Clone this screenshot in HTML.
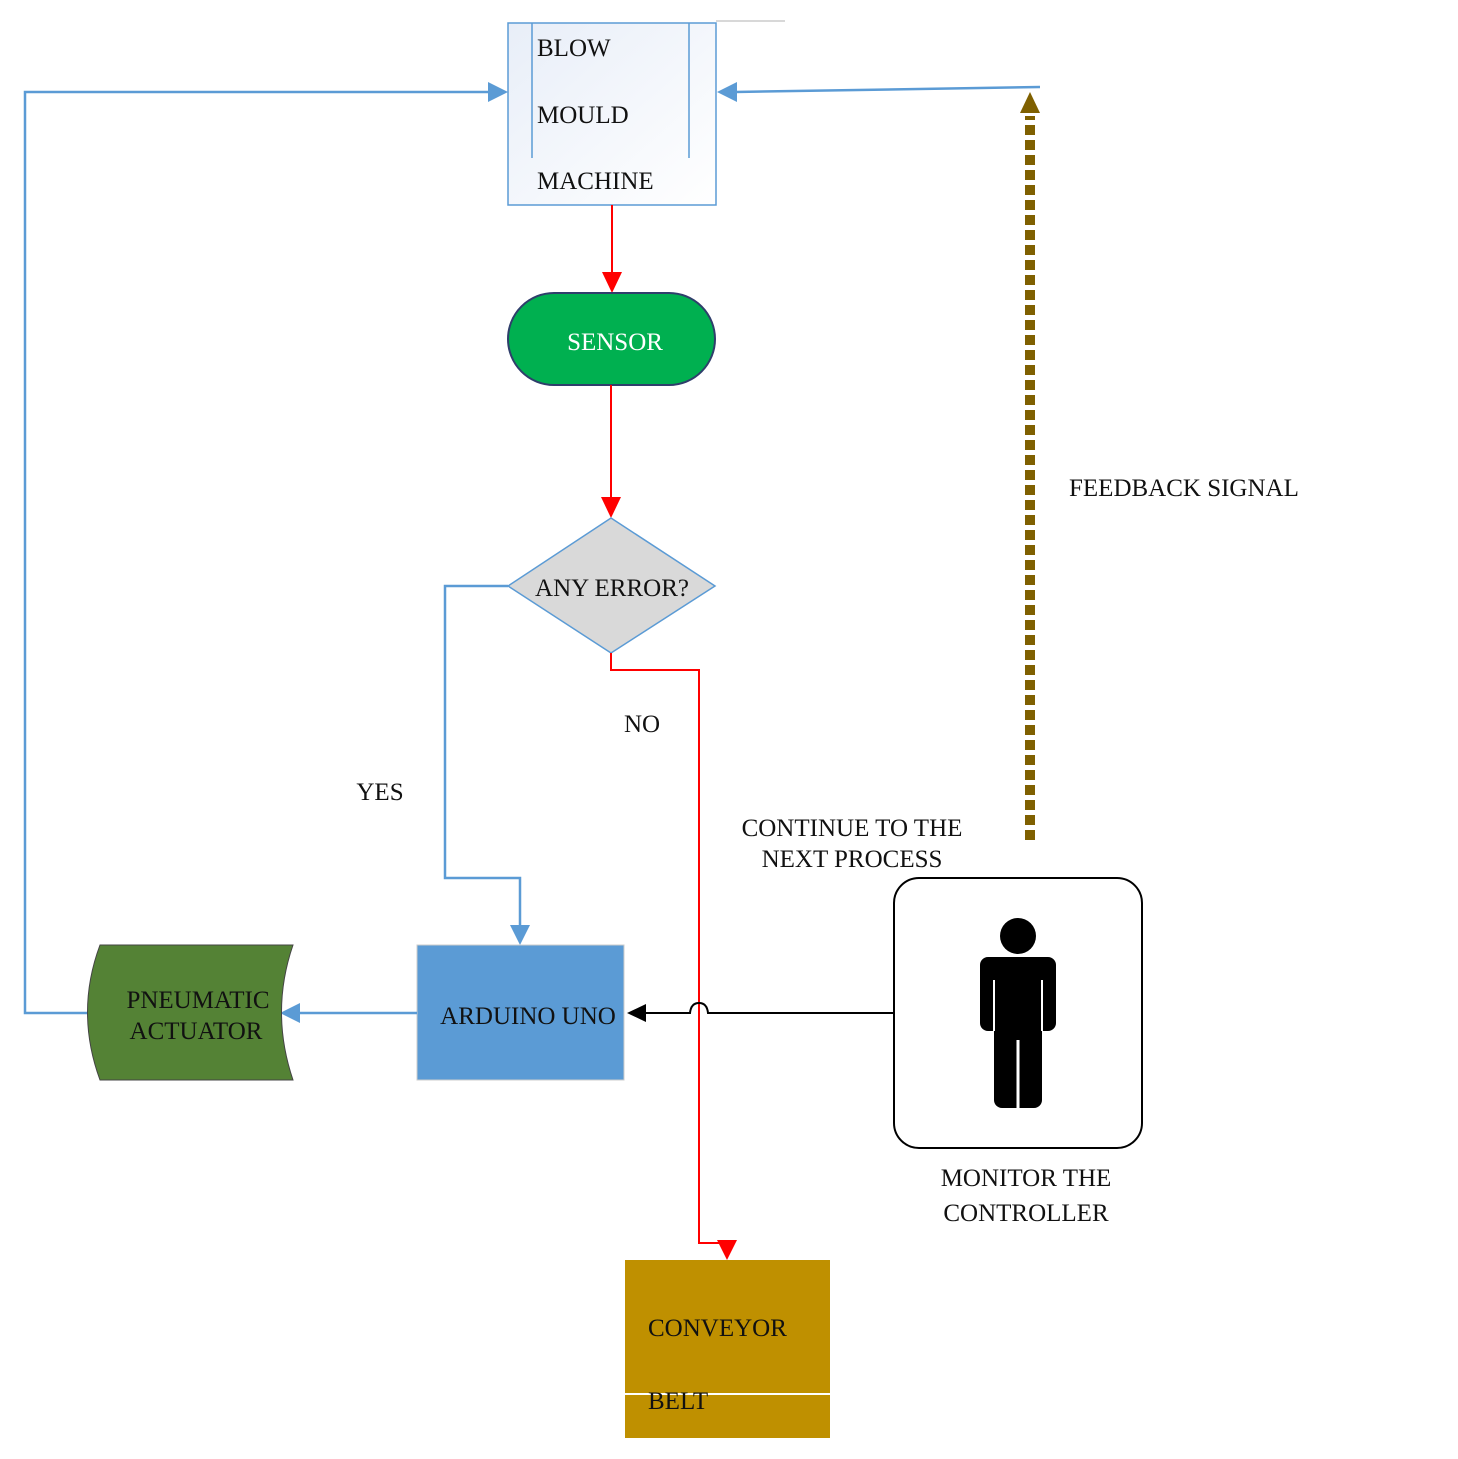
<!DOCTYPE html>
<html><head><meta charset="utf-8"><style>
html,body{margin:0;padding:0;background:#fff;}
svg{display:block;}
text{font-family:"Liberation Serif",serif;font-size:25px;fill:#111;}
</style></head><body>
<svg width="1458" height="1459" viewBox="0 0 1458 1459" xmlns="http://www.w3.org/2000/svg">
<defs>
<linearGradient id="g1" x1="0" y1="0" x2="1" y2="1"><stop offset="0" stop-color="#e8eef8"/><stop offset="1" stop-color="#ffffff"/></linearGradient>
</defs>
<!-- blow mould -->
<line x1="716" y1="21" x2="785" y2="21" stroke="#ccc" stroke-width="1.5"/>
<rect x="508" y="23" width="208" height="182" fill="url(#g1)" stroke="#5b9bd5" stroke-width="1.5"/>
<line x1="532" y1="23" x2="532" y2="158" stroke="#5b9bd5" stroke-width="1.5"/>
<line x1="689" y1="23" x2="689" y2="158" stroke="#5b9bd5" stroke-width="1.5"/>
<text x="537" y="56">BLOW</text>
<text x="537" y="123">MOULD</text>
<text x="537" y="189">MACHINE</text>
<!-- left loop -->
<polyline points="88,1013 25,1013 25,92 490,92" fill="none" stroke="#5b9bd5" stroke-width="2.5"/>
<polygon points="508,92 488,82 488,102" fill="#5b9bd5"/>
<!-- right arrow -->
<line x1="1040" y1="87" x2="735" y2="92" stroke="#5b9bd5" stroke-width="2.5"/>
<polygon points="717,92 737,82 737,102" fill="#5b9bd5"/>
<!-- red to sensor -->
<line x1="612" y1="205" x2="612" y2="275" stroke="#f00" stroke-width="2"/>
<polygon points="612,293 602,272 622,272" fill="#f00"/>
<!-- sensor -->
<rect x="508" y="293" width="207" height="92" rx="46" fill="#00b050" stroke="#2f3e6b" stroke-width="2"/>
<text x="615" y="350" text-anchor="middle" fill="#fff" style="fill:#fff">SENSOR</text>
<line x1="611" y1="385" x2="611" y2="500" stroke="#f00" stroke-width="2"/>
<polygon points="611,518 601,497 621,497" fill="#f00"/>
<!-- diamond -->
<polygon points="611,518 715,586 611,653 508,586" fill="#d9d9d9" stroke="#5b9bd5" stroke-width="1.5"/>
<text x="612" y="596" text-anchor="middle">ANY ERROR?</text>
<!-- yes path -->
<polyline points="508,586 445,586 445,878 520,878 520,928" fill="none" stroke="#5b9bd5" stroke-width="2.5"/>
<polygon points="520,945 510,925 530,925" fill="#5b9bd5"/>
<text x="380" y="800" text-anchor="middle">YES</text>
<!-- no path -->
<polyline points="611,653 611,670 699,670 699,1243 727,1243 727,1248" fill="none" stroke="#f00" stroke-width="2"/>
<polygon points="727,1260 717,1240 737,1240" fill="#f00"/>
<text x="642" y="732" text-anchor="middle">NO</text>
<text x="852" y="836" text-anchor="middle">CONTINUE TO THE</text>
<text x="852" y="867" text-anchor="middle">NEXT PROCESS</text>
<!-- arduino -->
<rect x="417" y="945" width="207" height="135" fill="#5b9bd5" stroke="#ccc" stroke-width="1"/>
<text x="528" y="1024" text-anchor="middle">ARDUINO UNO</text>
<line x1="417" y1="1013" x2="298" y2="1013" stroke="#5b9bd5" stroke-width="2.5"/>
<polygon points="280,1013 300,1003 300,1023" fill="#5b9bd5"/>
<!-- pneumatic -->
<path d="M100,945 L293,945 Q270,1012 293,1080 L100,1080 Q75,1012 100,945 Z" fill="#548235" stroke="#444" stroke-width="1"/>
<text x="198" y="1008" text-anchor="middle">PNEUMATIC</text>
<text x="196" y="1039" text-anchor="middle">ACTUATOR</text>
<!-- black line -->
<path d="M893,1013 L708,1013 Q707,1003 699,1003 Q691,1003 690,1013 L645,1013" fill="none" stroke="#000" stroke-width="2"/>
<polygon points="627,1013 646,1004 646,1022" fill="#000"/>
<!-- monitor -->
<rect x="894" y="878" width="248" height="270" rx="25" fill="#fff" stroke="#000" stroke-width="2"/>
<circle cx="1018" cy="936" r="18" fill="#000"/>
<rect x="980" y="957" width="76" height="74" rx="8" fill="#000"/>
<rect x="994" y="1000" width="48" height="108" rx="8" fill="#000"/>
<line x1="1018" y1="1040" x2="1018" y2="1110" stroke="#fff" stroke-width="3"/>
<line x1="994" y1="980" x2="994" y2="1031" stroke="#fff" stroke-width="2"/>
<line x1="1042" y1="980" x2="1042" y2="1031" stroke="#fff" stroke-width="2"/>
<text x="1026" y="1186" text-anchor="middle">MONITOR THE</text>
<text x="1026" y="1221" text-anchor="middle">CONTROLLER</text>
<!-- feedback -->
<line x1="1030" y1="840" x2="1030" y2="116" stroke="#7f6000" stroke-width="10" stroke-dasharray="10,5"/>
<polygon points="1030,92 1020,113 1040,113" fill="#7f6000"/>
<text x="1069" y="496">FEEDBACK SIGNAL</text>
<!-- conveyor -->
<rect x="625" y="1260" width="205" height="178" fill="#bf9000"/>
<line x1="625" y1="1394" x2="830" y2="1394" stroke="#fff" stroke-width="2"/>
<text x="648" y="1336">CONVEYOR</text>
<text x="648" y="1409">BELT</text>
</svg>
</body></html>
